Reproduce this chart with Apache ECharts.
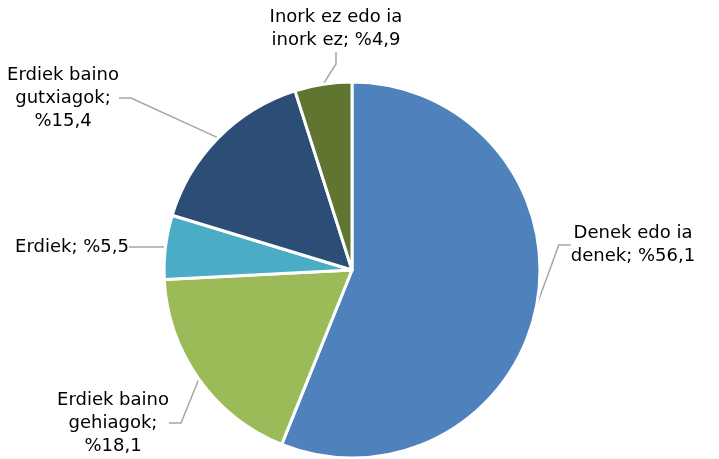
<!DOCTYPE html>
<html>
<head>
<meta charset="utf-8">
<script src="https://cdn.jsdelivr.net/npm/echarts@6/dist/echarts.min.js"></script>
<style>
  html, body { margin: 0; padding: 0; background: #fff; }
  #main { width: 719px; height: 459px; }
</style>
</head>
<body>
<div id="main"></div>
<script>
// datuak
var slice_names = ['Denek edo ia denek', 'Erdiek baino gehiagok', 'Erdiek', 'Erdiek baino gutxiagok', 'Inork ez edo ia inork ez'];
var slice_wrapped = ['Denek edo ia\ndenek', 'Erdiek baino\ngehiagok;\n', 'Erdiek', 'Erdiek baino\ngutxiagok;\n', 'Inork ez edo ia\ninork ez'];
var slice_values = [56.1, 18.1, 5.5, 15.4, 4.9];
var slice_colors = ['#4F81BD', '#9BBB59', '#4BACC6', '#2C4D75', '#5F7530'];

// etiketen kokapena (testu-blokearen erdigunea)
var label_pos = [[633, 245], [113, 423], [72, 247], [63, 98], [336, 29]];

var pie_data = [];
for (var i = 0; i < slice_names.length; i++) {
    pie_data.push({
        name: slice_names[i],
        value: slice_values[i],
        itemStyle: { color: slice_colors[i] }
    });
}

function fmt(v) {
    return '%' + v.toFixed(1).replace('.', ',');
}

var myChart = echarts.init(document.getElementById('main'));
var option = {
    animation: false,
    series: [
        {
            type: 'pie',
            center: [352, 270],
            radius: 188,
            startAngle: 90,
            clockwise: true,
            data: pie_data,
            itemStyle: {
                borderColor: '#ffffff',
                borderWidth: 3
            },
            label: {
                show: true,
                position: 'outside',
                fontFamily: 'DejaVu Sans, Verdana, sans-serif',
                fontSize: 18,
                lineHeight: 23,
                color: '#000000',
                align: 'center',
                formatter: function (p) {
                    var w = slice_wrapped[p.dataIndex];
                    var sep = w.charAt(w.length - 1) === '\n' ? '' : '; ';
                    return w + sep + fmt(p.value);
                }
            },
            labelLine: {
                show: true,
                length: 15,
                length2: 12,
                lineStyle: { color: '#A6A6A6', width: 1.5 }
            },
            labelLayout: function (params) {
                var p = label_pos[params.dataIndex];
                return {
                    x: p[0],
                    y: p[1],
                    align: 'center',
                    verticalAlign: 'middle'
                };
            }
        }
    ]
};
myChart.setOption(option);
</script>
</body>
</html>
